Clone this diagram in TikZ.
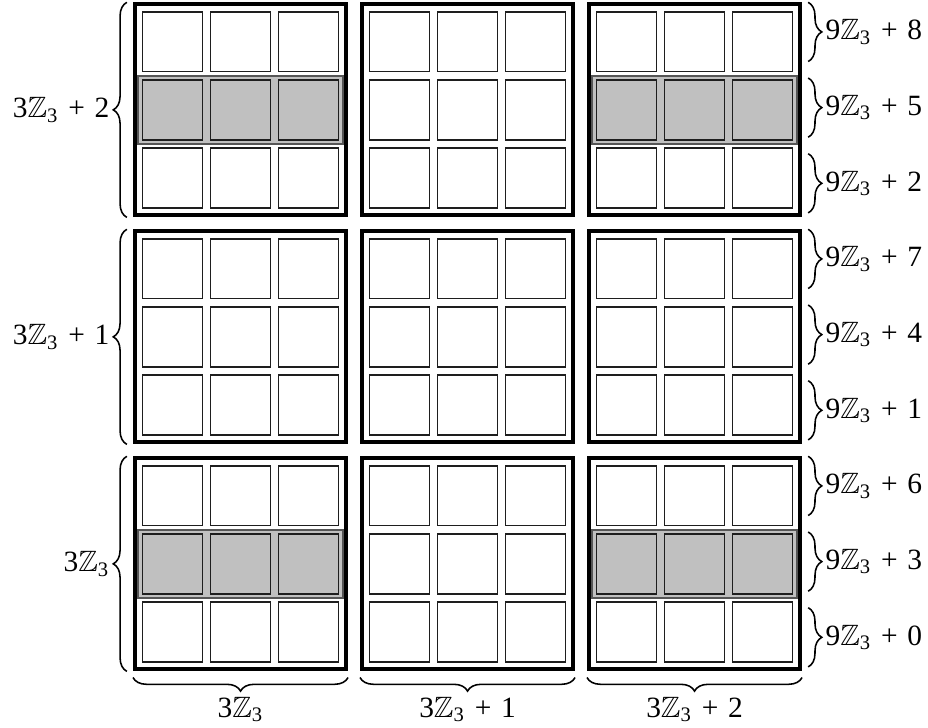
\documentclass[tikz,border=0pt]{standalone}
\usepackage{amsmath, amssymb}
\usepackage{fontspec}
\setmainfont{Liberation Serif}
\usepackage{tikz}
\usetikzlibrary{decorations.pathreplacing, positioning}
\definecolor{bandgray}{RGB}{192,192,192}
\definecolor{banddraw}{RGB}{85,85,85}
\definecolor{celldraw}{RGB}{30,30,30}
\newcommand{\Zthree}{\ensuremath{\mathbb{Z}_{\text{3}}}}
\newcommand{\plus}{\hspace{0.33em}+\hspace{0.33em}}

\begin{document}
\begin{tikzpicture}[
  font=\fontsize{12.3}{14}\selectfont,
  blockbox/.style={draw, line width=1.7pt, minimum size=3.1cm, inner sep=0pt},
  cellbox/.style={draw=celldraw, line width=0.6pt, minimum size=0.88cm, inner sep=0pt},
  rowband/.style={fill=bandgray, draw=banddraw, line width=0.8pt},
  bracket/.style={decorate, decoration={brace, amplitude=0.2cm}, line width=0.65pt},
  lab/.style={inner sep=1pt}
]
  \def\P{3.335}
  \fill[white] (-2.034,-0.904) rectangle (11.6,9.784);
  \useasboundingbox (-2.034,-0.904) rectangle (11.6,9.784);

  % shaded middle rows
  \foreach \i/\j in {0/0, 2/0, 0/2, 2/2}
    \draw[rowband] (\i*\P, \j*\P+1) rectangle (\i*\P+3, \j*\P+2);

  % blocks and cells
  \foreach \i in {0,1,2}
    \foreach \j in {0,1,2} {
      \node[blockbox] (blk-\i-\j) at (\i*\P+1.5, \j*\P+1.5) {};
      \foreach \k in {0,1,2}
        \foreach \m in {0,1,2}
          \node[cellbox] (cell-\i-\j-\k-\m) at (\i*\P+\k+0.5, \j*\P+\m+0.5) {};
    }

  % left braces
  \foreach \j/\txt in {0/{3\Zthree}, 1/{3\Zthree\plus1}, 2/{3\Zthree\plus2}}
    \draw[bracket] ([xshift=-0.09cm]blk-0-\j.south west) -- ([xshift=-0.09cm]blk-0-\j.north west)
      node[lab, midway, left=0.21cm] {\txt};

  % right braces
  \foreach \j in {0,1,2}
    \foreach \k in {0,1,2} {
      \pgfmathtruncatemacro\res{3*(2-\k)+\j}
      \draw[bracket] ([xshift=0.09cm, yshift={-\k*1.112cm}]blk-2-\j.north east) -- ++(0,-0.87)
        node[lab, midway, right=0.21cm] {9\Zthree\plus\res};
    }

  % bottom braces
  \foreach \i/\txt in {0/{3\Zthree}, 1/{3\Zthree\plus1}, 2/{3\Zthree\plus2}}
    \draw[bracket] ([yshift=-0.09cm]blk-\i-0.south east) -- ([yshift=-0.09cm]blk-\i-0.south west)
      node[lab, midway, below=0.24cm] {\txt};
\end{tikzpicture}
\end{document}
